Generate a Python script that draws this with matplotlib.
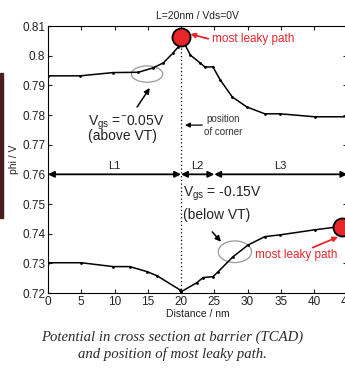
import matplotlib.pyplot as plt
import numpy as np
from matplotlib.patches import Ellipse, Rectangle
from matplotlib.ticker import FuncFormatter

plt.rcParams['font.family'] = ['Liberation Sans', 'DejaVu Sans']
plt.rcParams['mathtext.fontset'] = 'custom'
plt.rcParams['mathtext.rm'] = 'Liberation Sans'

# potential along the cross section
x_above = [0, 4.8, 9.8, 13.6, 15.8, 17.3, 18.8, 19.6, 20, 21.4, 22.9, 23.6, 24.8,
           25.9, 27.7, 29.9, 32.6, 34.9, 40.1, 45]
phi_above = [0.7932, 0.7932, 0.7943, 0.7944, 0.7959, 0.7975, 0.8009, 0.8030, 0.8063,
             0.8002, 0.7975, 0.7962, 0.7962, 0.7918, 0.7861, 0.7827, 0.7804, 0.7804,
             0.7794, 0.7794]
x_below = [0, 5, 9.8, 12.3, 14.9, 16.4, 19.8, 20, 22.4, 23.3, 24.8, 25.6, 27.8,
           30.1, 32.6, 34.9, 40.1, 43.6, 45]
phi_below = [0.7302, 0.7302, 0.7289, 0.7289, 0.7272, 0.7258, 0.7211, 0.7204, 0.7235,
             0.7252, 0.7255, 0.7272, 0.7322, 0.7362, 0.7390, 0.7396, 0.7413, 0.7423,
             0.7423]
leaky_x = [20, 44.2]
leaky_y = [0.8063, 0.7423]
corner_x = 20
regions = [("L1", 0, 20), ("L2", 20, 25), ("L3", 25, 45)]
region_y = 0.76

fig = plt.figure(figsize=(3.45, 3.68), dpi=100)
ax = fig.add_axes([48/345, 75/368, 299.3/345, 267/368])
ax.plot(x_above, phi_above, color='k', lw=1.1, marker='.', ms=2)
ax.plot(x_below, phi_below, color='k', lw=1.1, marker='.', ms=2)
ax.plot([corner_x, corner_x], [0.72, leaky_y[0]], color='k', ls=(0, (1, 2)), lw=0.9)
ax.plot(leaky_x, leaky_y, 'o', ms=13, mfc='#e8262a', mec='k', mew=1.3, zorder=5, clip_on=False)

for name, a, b in regions:
    ax.annotate('', xy=(a, region_y), xytext=(b, region_y),
                arrowprops=dict(arrowstyle='<|-|>', color='k', lw=1.3, mutation_scale=9,
                                shrinkA=0, shrinkB=0))
    ax.text((a + b) / 2, region_y + 0.0012, name, ha='center', va='bottom', fontsize=8, color='#222222')

ax.add_patch(Ellipse((14.9, 0.7938), 4.7, 0.0055, fill=False, ec='#999999', lw=0.9))
ax.add_patch(Ellipse((28.1, 0.7339), 5.0, 0.0073, fill=False, ec='#999999', lw=0.9))

ax.annotate('', xy=(15.3, 0.7891), xytext=(13.4, 0.7827),
            arrowprops=dict(arrowstyle='-|>', color='k', lw=1.1, mutation_scale=8, shrinkA=0, shrinkB=0))
ax.annotate('', xy=(26.0, 0.7373), xytext=(24.7, 0.7406),
            arrowprops=dict(arrowstyle='-|>', color='k', lw=1.1, mutation_scale=8, shrinkA=0, shrinkB=0))
ax.text(6, 0.7774, r'V$_{\mathregular{gs}}$ =$^{\mathregular{-}}$0.05V', fontsize=10, va='center', color='#222222')
ax.text(6, 0.7728, '(above VT)', fontsize=10, va='center', color='#222222')
ax.text(20.3, 0.7534, r'V$_{\mathregular{gs}}$ = -0.15V', fontsize=10, va='center', color='#222222')
ax.text(20.3, 0.7462, '(below VT)', fontsize=10, va='center', color='#222222')

ax.annotate('', xy=(20.6, 0.7766), xytext=(23.2, 0.7766),
            arrowprops=dict(arrowstyle='-|>', color='k', lw=0.9, mutation_scale=7, shrinkA=0, shrinkB=0))
ax.text(26.3, 0.7764, 'position\nof corner', fontsize=7, ha='center', va='center',
        color='#333333', linespacing=1.3)

ax.annotate('', xy=(21.4, 0.8073), xytext=(24.1, 0.8057),
            arrowprops=dict(arrowstyle='-|>', color='#e8262a', lw=1.3, mutation_scale=7, shrinkA=0, shrinkB=0))
ax.text(24.7, 0.8056, 'most leaky path', color='#e8262a', fontsize=8.5, va='center')
ax.annotate('', xy=(43.6, 0.7389), xytext=(39.8, 0.7353),
            arrowprops=dict(arrowstyle='-|>', color='#e8262a', lw=1.3, mutation_scale=7, shrinkA=0, shrinkB=0))
ax.text(31.1, 0.7329, 'most leaky path', color='#e8262a', fontsize=8.5, va='center')

ax.set_xlim(0, 45)
ax.set_ylim(0.72, 0.81)
ax.set_xticks(np.arange(0, 46, 5))
ax.set_yticks(np.arange(0.72, 0.8101, 0.01))
ax.yaxis.set_major_formatter(FuncFormatter(lambda v, p: '%g' % round(v, 2)))
ax.tick_params(direction='in', top=True, right=True, labelsize=8.5, length=3, pad=2, colors='#222222')
ax.set_xlabel('Distance / nm', fontsize=7.5, labelpad=1, color='#222222')
ax.set_ylabel('phi / V', fontsize=7.5, labelpad=2, color='#222222')
ax.set_title('L=20nm / Vds=0V', fontsize=7.5, pad=5, color='#222222')

fig.patches.append(Rectangle((0, 1 - 218/368), 2.5/345, 145/368, transform=fig.transFigure,
                             color='#4a1c1c', zorder=0))
fig.text(0.5, 1 - 337/368, 'Potential in cross section at barrier (TCAD)', ha='center', va='center',
         fontsize=10.6, style='italic', family='Liberation Serif', color='#2a2a2a')
fig.text(0.5, 1 - 354/368, 'and position of most leaky path.', ha='center', va='center',
         fontsize=10.6, style='italic', family='Liberation Serif', color='#2a2a2a')

fig.savefig('out.png', dpi=100)
